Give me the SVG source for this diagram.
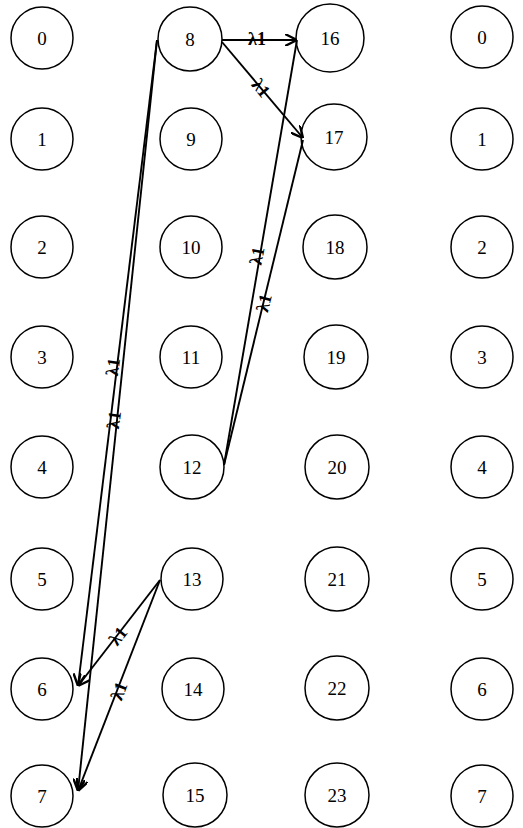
<svg xmlns="http://www.w3.org/2000/svg" width="523" height="828" viewBox="0 0 523 828">
<style>
.n circle{fill:#fff;stroke:#000;stroke-width:1.5}
.n text{font-family:"Liberation Serif","Times New Roman",serif;font-size:19px;text-anchor:middle;dominant-baseline:central;fill:#000}
.e line{stroke:#000;stroke-width:1.9;fill:none}
.lbl{font-family:"Liberation Serif","Times New Roman",serif;font-size:18px;font-weight:bold;text-anchor:middle;dominant-baseline:central;fill:#000}
</style>
<defs>
<marker id="ah" viewBox="0 0 10 10" refX="10" refY="5" markerWidth="12" markerHeight="12" markerUnits="userSpaceOnUse" orient="auto">
<path d="M0,0 L10,5 L0,10" fill="none" stroke="#000" stroke-width="2"/>
</marker>
</defs>
<g id="node-c0-0" class="n"><circle cx="42" cy="38" r="31"/><text x="42" y="38">0</text></g>
<g id="node-c0-1" class="n"><circle cx="42" cy="139" r="31"/><text x="42" y="139">1</text></g>
<g id="node-c0-2" class="n"><circle cx="42" cy="247" r="31"/><text x="42" y="247">2</text></g>
<g id="node-c0-3" class="n"><circle cx="42" cy="357" r="31"/><text x="42" y="357">3</text></g>
<g id="node-c0-4" class="n"><circle cx="42" cy="467" r="31"/><text x="42" y="467">4</text></g>
<g id="node-c0-5" class="n"><circle cx="42" cy="579" r="31"/><text x="42" y="579">5</text></g>
<g id="node-c0-6" class="n"><circle cx="42" cy="689" r="31"/><text x="42" y="689">6</text></g>
<g id="node-c0-7" class="n"><circle cx="42" cy="796" r="31"/><text x="42" y="796">7</text></g>
<g id="node-8" class="n"><circle cx="190" cy="39" r="32"/><text x="190" y="39">8</text></g>
<g id="node-9" class="n"><circle cx="191" cy="139" r="31"/><text x="191" y="139">9</text></g>
<g id="node-10" class="n"><circle cx="191" cy="247" r="31"/><text x="191" y="247">10</text></g>
<g id="node-11" class="n"><circle cx="191" cy="357" r="31"/><text x="191" y="357">11</text></g>
<g id="node-12" class="n"><circle cx="192" cy="467" r="32"/><text x="192" y="467">12</text></g>
<g id="node-13" class="n"><circle cx="192" cy="579" r="31"/><text x="192" y="579">13</text></g>
<g id="node-14" class="n"><circle cx="193" cy="689" r="31"/><text x="193" y="689">14</text></g>
<g id="node-15" class="n"><circle cx="195" cy="795" r="32"/><text x="195" y="795">15</text></g>
<g id="node-16" class="n"><circle cx="330" cy="38" r="34"/><text x="330" y="38">16</text></g>
<g id="node-17" class="n"><circle cx="334" cy="137" r="33"/><text x="334" y="137">17</text></g>
<g id="node-18" class="n"><circle cx="335" cy="247" r="32"/><text x="335" y="247">18</text></g>
<g id="node-19" class="n"><circle cx="336" cy="357" r="32"/><text x="336" y="357">19</text></g>
<g id="node-20" class="n"><circle cx="337" cy="467" r="32"/><text x="337" y="467">20</text></g>
<g id="node-21" class="n"><circle cx="337" cy="579" r="32"/><text x="337" y="579">21</text></g>
<g id="node-22" class="n"><circle cx="337" cy="688" r="32"/><text x="337" y="688">22</text></g>
<g id="node-23" class="n"><circle cx="337" cy="795" r="32"/><text x="337" y="795">23</text></g>
<g id="node-c3-0" class="n"><circle cx="482" cy="37" r="31"/><text x="482" y="37">0</text></g>
<g id="node-c3-1" class="n"><circle cx="482" cy="139" r="31"/><text x="482" y="139">1</text></g>
<g id="node-c3-2" class="n"><circle cx="482" cy="247" r="31"/><text x="482" y="247">2</text></g>
<g id="node-c3-3" class="n"><circle cx="482" cy="357" r="31"/><text x="482" y="357">3</text></g>
<g id="node-c3-4" class="n"><circle cx="482" cy="467" r="31"/><text x="482" y="467">4</text></g>
<g id="node-c3-5" class="n"><circle cx="482" cy="579" r="31"/><text x="482" y="579">5</text></g>
<g id="node-c3-6" class="n"><circle cx="482" cy="689" r="31"/><text x="482" y="689">6</text></g>
<g id="node-c3-7" class="n"><circle cx="482" cy="796" r="31"/><text x="482" y="796">7</text></g>
<g id="connectors" class="e">
<line x1="222" y1="40" x2="297" y2="40" marker-end="url(#ah)"/>
<line x1="222" y1="42" x2="303" y2="138" marker-end="url(#ah)"/>
<line x1="224" y1="465" x2="297" y2="40"/>
<line x1="224" y1="465" x2="303" y2="140"/>
<line x1="157" y1="40" x2="78" y2="686" marker-end="url(#ah)"/>
<line x1="157" y1="40" x2="78" y2="791" marker-end="url(#ah)"/>
<line x1="160" y1="580" x2="78" y2="686" marker-end="url(#ah)"/>
<line x1="160" y1="580" x2="78" y2="791" marker-end="url(#ah)"/>
<text class="lbl" x="257" y="39">λ1</text>
<text class="lbl" transform="translate(261,88) rotate(50)">λ1</text>
<text class="lbl" transform="translate(257,256) rotate(-80)">λ1</text>
<text class="lbl" transform="translate(264,303) rotate(-76)">λ1</text>
<text class="lbl" transform="translate(113,367) rotate(-83)">λ1</text>
<text class="lbl" transform="translate(114,420) rotate(-83)">λ1</text>
<text class="lbl" transform="translate(118,636) rotate(-52)">λ1</text>
<text class="lbl" transform="translate(119,691) rotate(-69)">λ1</text>
</g>
</svg>
